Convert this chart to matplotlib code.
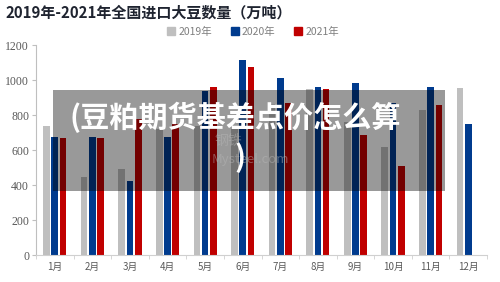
import numpy as np
import matplotlib
matplotlib.use("Agg")
import matplotlib.pyplot as plt
from matplotlib.patches import Rectangle
from matplotlib.lines import Line2D

plt.rcParams['font.family'] = ['Noto Sans CJK SC', 'DejaVu Sans']

# 数据（万吨）
months = [f"{i}月" for i in range(1, 13)]
imp_2019 = [738, 449, 493, 720, 740, 720, 865, 947, 760, 618, 829, 955]
imp_2020 = [675, 675, 426, 673, 940, 1116, 1010, 960, 981, 869, 958, 751]
imp_2021 = [669, 669, 777, 748, 960, 1073, 871, 949, 688, 512, 858]
series_names = ["2019年", "2020年", "2021年"]
colors = ["#bfbfbf", "#003b8e", "#c00000"]

fig = plt.figure(figsize=(5.0, 2.82), dpi=100)
ax = fig.add_axes([0.072, 0.0947, 0.902, 0.7457])

x = np.arange(len(months))
w = 0.178
off = 0.22
ax.bar(x - off, imp_2019, width=w, color=colors[0], zorder=2)
ax.bar(x, imp_2020, width=w, color=colors[1], zorder=2)
ax.bar(x[:len(imp_2021)] + off, imp_2021, width=w, color=colors[2], zorder=2)

ax.set_xlim(-0.5, 11.5)
ax.set_ylim(0, 1200)
ax.set_yticks(range(0, 1201, 200))
ax.set_yticklabels([str(v) for v in range(0, 1201, 200)],
                   family='Liberation Serif', fontsize=8.5, color='#595959')
ax.set_xticks(x)
ax.set_xticklabels(months, fontsize=7, color='#595959')
ax.set_xticks(np.arange(-0.5, 12, 1), minor=True)
ax.tick_params(axis='x', which='major', length=0, pad=5)
ax.tick_params(axis='x', which='minor', length=3, color='#d0d0d0')
ax.tick_params(axis='y', length=3, color='#bfbfbf', pad=2)
for s in ['top', 'right']:
    ax.spines[s].set_visible(False)
ax.spines['left'].set_color('#bfbfbf')
ax.spines['bottom'].set_color('#d0d0d0')

# 标题与图例
fig.text(0.01, 0.955, "2019年-2021年全国进口大豆数量（万吨）",
         fontsize=10.8, fontweight='bold', color='#1f2430', va='center')
handles = [Line2D([], [], marker='s', linestyle='none', markersize=6,
                  markerfacecolor=c, markeredgecolor=c) for c in colors]
fig.legend(handles, series_names, loc='center', bbox_to_anchor=(0.505, 0.887),
           ncol=3, frameon=False, fontsize=7.5, labelcolor='#7f7f7f',
           handletextpad=0.2, columnspacing=1.7, handlelength=1.0)

# 遮罩层与文字
fig.patches.append(Rectangle((53 / 500, 1 - 191 / 282), 392 / 500, 101 / 282,
                             transform=fig.transFigure, facecolor='black',
                             alpha=0.4, edgecolor='none', zorder=5))
fig.text(228 / 500, 1 - 141 / 282, "钢铁", fontsize=10, color='#b8b8b8',
         alpha=0.45, ha='center', va='center', zorder=6)
fig.text(250 / 500, 1 - 159 / 282, "Mysteel.com", fontsize=9.5, color='#b8b8b8',
         alpha=0.45, ha='center', va='center', zorder=6)
fig.text(70 / 500, 1 - 117 / 282, "(豆粕期货基差点价怎么算", fontsize=21,
         fontweight='black', color='white', va='center', ha='left', zorder=7)
fig.text(240 / 500, 1 - 158 / 282, ")", fontsize=21,
         fontweight='black', color='white', va='center', ha='center', zorder=7)

fig.savefig("out.png", dpi=100)
